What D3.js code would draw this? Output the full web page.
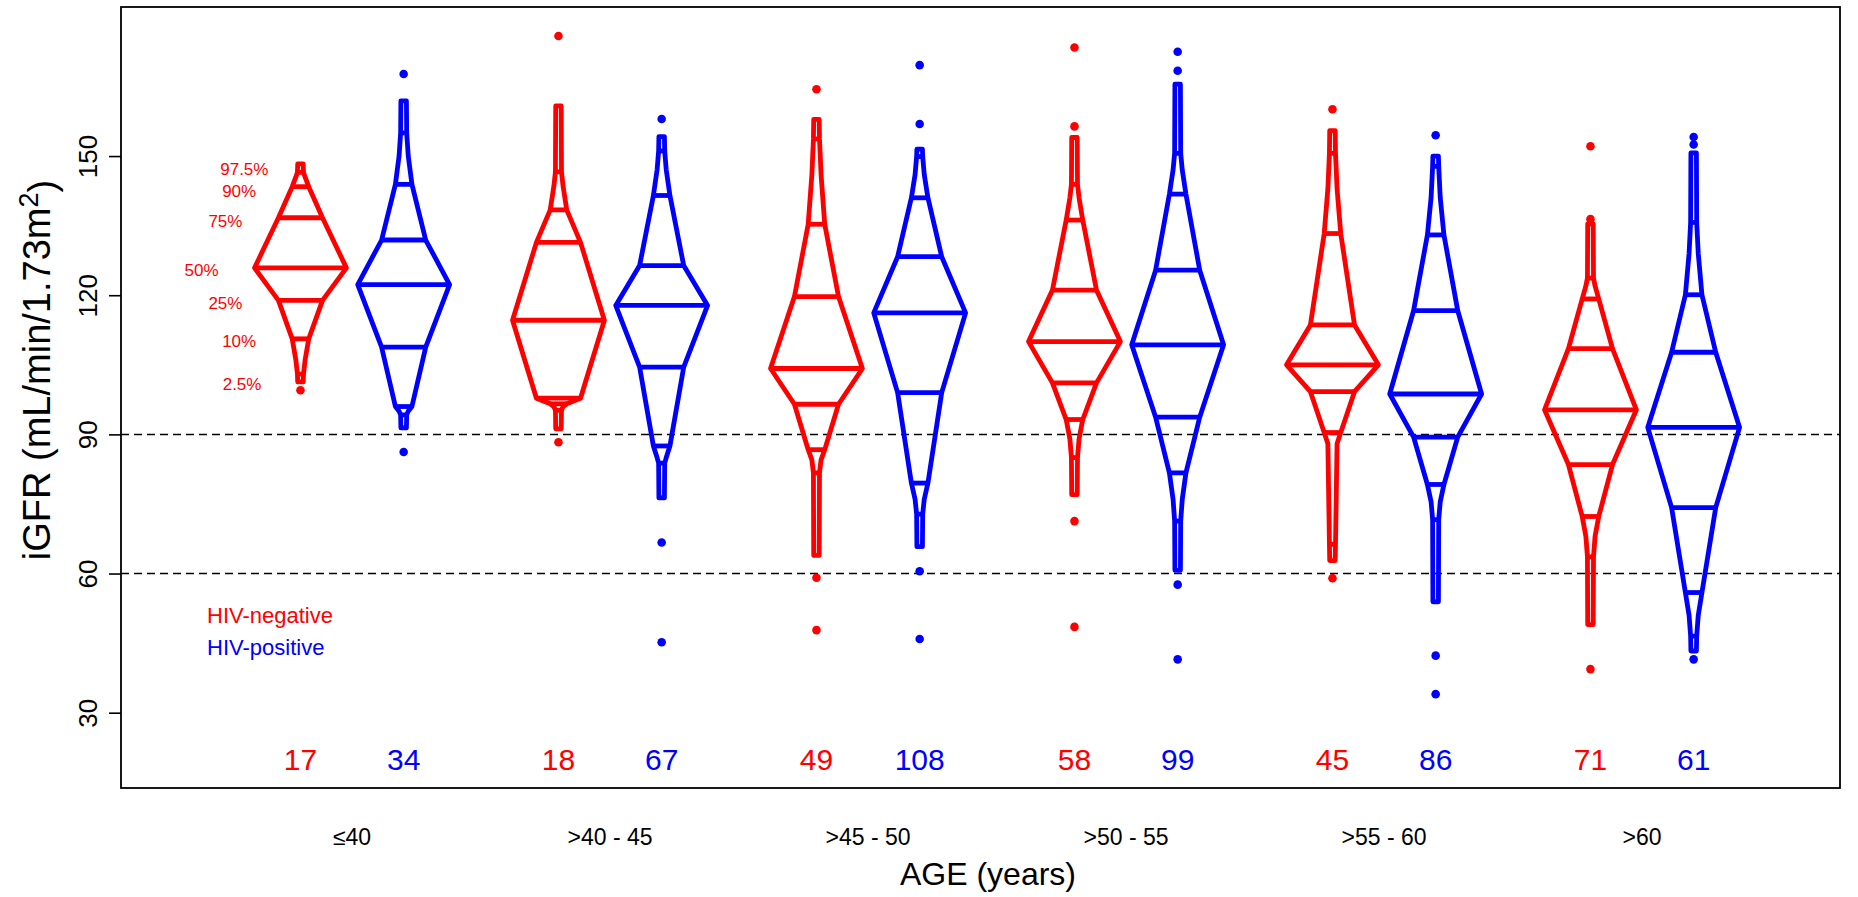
<!DOCTYPE html>
<html><head><meta charset="utf-8">
<script src="https://cdn.jsdelivr.net/npm/d3@7"></script>
<style>
html,body{margin:0;padding:0;background:#fff;}
svg{display:block;font-family:"Liberation Sans",Arial,Helvetica,sans-serif;}
</style>
</head><body>
<svg id="chart" width="1858" height="897"></svg>
<script>
// ---------------- data ----------------
const ageGroups = ["\u226440", ">40 - 45", ">45 - 50", ">50 - 55", ">55 - 60", ">60"];
const seriesNames = ["HIV-negative", "HIV-positive"];
const seriesColors = ["#FF0000", "#0000FF"];
const yTicks = [30, 60, 90, 120, 150];
const refLines = [60, 90];
const nLabelLevel = 20;

// profile columns: min, 2.5%, 5%, 10%, 25%, 50%, 75%, 90%, 95%, 97.5%, max
const profileProbs = [0, 0.025, 0.05, 0.10, 0.25, 0.50, 0.75, 0.90, 0.95, 0.975, 1];
// folded width of the outline at each profile column (as drawn)
const profileFold = [0.03, 0.033, 0.05, 0.09, 0.24, 0.50, 0.24, 0.09, 0.05, 0.033, 0.03];
// which columns get a percentile line
const markedProbs = [0.025, 0.10, 0.25, 0.50, 0.75, 0.90, 0.975];
const percentileLabels = ["2.5%", "10%", "25%", "50%", "75%", "90%", "97.5%"];

// HIV-negative
const negN = [17, 18, 49, 58, 45, 71];
const negProfile = [
  [101.3, 103.0, 106.0, 110.6, 118.9, 125.9, 136.7, 143.4, 145.5, 146.5, 148.3],
  [ 91.2,  95.2,  96.0,  96.6,  97.8, 114.6, 131.4, 138.4, 143.5, 146.6, 160.8],
  [ 63.9,  81.7,  84.5,  86.7,  96.5, 104.2, 119.7, 135.3, 146.0, 153.7, 157.9],
  [ 77.0,  85.0,  89.0,  93.2, 101.1, 110.0, 121.1, 136.2, 141.0, 143.9, 154.0],
  [ 62.8,  66.3,  88.0,  90.4,  99.2, 105.0, 113.6, 133.3, 143.0, 150.6, 155.5],
  [ 49.0,  63.6,  68.0,  72.3,  83.5,  95.3, 108.5, 119.2, 122.0, 123.7, 135.4]
];
const negOutliers = [
  [99.5],
  [175.9, 88.3],
  [164.4, 59.1, 47.8],
  [173.4, 156.4, 71.3, 48.5],
  [160.1, 59.0],
  [152.1, 136.4, 39.4]
];

// HIV-positive
const posN = [34, 67, 108, 99, 86, 61];
const posProfile = [
  [ 91.4,  94.2,  95.0,  96.0, 108.8, 122.3, 131.9, 143.9, 150.0, 155.0, 161.9],
  [ 76.3,  83.8,  85.0,  87.5, 104.5, 117.8, 126.4, 141.5, 147.0, 151.1, 154.2],
  [ 65.8,  72.8,  76.0,  79.5,  99.0, 116.2, 128.3, 141.0, 146.0, 149.9, 151.5],
  [ 60.7,  71.3,  76.0,  81.7,  93.7, 109.3, 125.4, 141.8, 147.0, 150.6, 165.5],
  [ 53.9,  71.6,  75.5,  79.2,  89.4,  98.7, 116.7, 133.0, 141.0, 147.8, 150.0],
  [ 43.3,  46.5,  51.0,  55.9,  74.2,  91.5, 107.7, 120.1, 129.0, 135.7, 150.7]
];
const posOutliers = [
  [167.7, 86.2],
  [158.0, 66.7, 45.2],
  [169.6, 156.9, 60.5, 45.9],
  [172.5, 168.4, 57.6, 41.5],
  [154.5, 42.3, 34.0],
  [154.1, 152.5, 41.5]
];

// ---------------- layout ----------------
const plot = {left: 121, right: 1840, top: 7, bottom: 788};
const strokeW = 4.8;
const widthScale = 0.89;       // half-width (in slot units) per folded proportion

const svg = d3.select("#chart");

const allVals = [].concat(negProfile.flat(), posProfile.flat(), negOutliers.flat(), posOutliers.flat(), [nLabelLevel]);
const [lo, hi] = d3.extent(allVals);
const pad = (hi - lo) * 0.04;
const y = d3.scaleLinear().domain([lo - pad, hi + pad]).range([plot.bottom, plot.top]);
const x = d3.scaleLinear().domain([-0.739, 15.918]).range([plot.left, plot.right]);

const slotPos = (i, s) => 1 + 2.5 * i + s;
const halfW = fold => x(widthScale * fold) - x(0);
const markedCols = markedProbs.map(p => profileProbs.indexOf(p));

// dashed reference lines
svg.append("g").selectAll("line").data(refLines).join("line")
  .attr("x1", plot.left).attr("x2", plot.right)
  .attr("y1", d => y(d)).attr("y2", d => y(d))
  .attr("stroke", "#000").attr("stroke-width", 1.5).attr("stroke-dasharray", "8,5");

// shapes
const series = [
  {n: negN, profile: negProfile, outliers: negOutliers, color: seriesColors[0], s: 0},
  {n: posN, profile: posProfile, outliers: posOutliers, color: seriesColors[1], s: 1}
];

const gShapes = svg.append("g");
series.forEach(ser => {
  ser.profile.forEach((q, i) => {
    const cx = x(slotPos(i, ser.s));
    const right = q.map((v, k) => [cx + halfW(profileFold[k]), y(v)]);
    const left = q.map((v, k) => [cx - halfW(profileFold[k]), y(v)]).reverse();
    const g = gShapes.append("g");
    g.append("path")
      .attr("d", d3.line()(right.concat(left)) + "Z")
      .attr("fill", "none").attr("stroke", ser.color)
      .attr("stroke-width", strokeW).attr("stroke-linejoin", "round");
    // percentile lines
    g.selectAll("line").data(markedCols.map(c => ({v: q[c], f: profileFold[c]}))).join("line")
      .attr("x1", d => cx - halfW(d.f)).attr("x2", d => cx + halfW(d.f))
      .attr("y1", d => y(d.v)).attr("y2", d => y(d.v))
      .attr("stroke", ser.color).attr("stroke-width", strokeW);
    // outliers
    g.selectAll("circle").data(ser.outliers[i]).join("circle")
      .attr("cx", cx).attr("cy", d => y(d)).attr("r", 4.3).attr("fill", ser.color);
    // n labels
    svg.append("text")
      .attr("x", cx).attr("y", y(nLabelLevel)).attr("dy", "0.36em")
      .attr("text-anchor", "middle").attr("font-size", 30).attr("fill", ser.color)
      .text(ser.n[i]);
  });
});

// percentile labels beside the first HIV-negative shape
const labelNudgeY = [10, 2, 3, 2, 3, 4, -3];
const labelNudgeX = [0, 0, 0, 0, 0, 0, 7];
const q0 = negProfile[0];
svg.append("g").selectAll("text").data(percentileLabels).join("text")
  .attr("x", (d, k) => x(slotPos(0, 0)) - halfW(profileFold[markedCols[k]]) - 36 + labelNudgeX[k])
  .attr("y", (d, k) => y(q0[markedCols[k]]) + labelNudgeY[k])
  .attr("dy", "0.35em").attr("text-anchor", "end")
  .attr("font-size", 17).attr("fill", seriesColors[0])
  .text(d => d);

// legend
svg.append("g").selectAll("text").data(seriesNames).join("text")
  .attr("x", 207).attr("y", (d, k) => 623 + 32 * k)
  .attr("font-size", 22).attr("fill", (d, k) => seriesColors[k])
  .text(d => d);

// y axis
const yAxis = svg.append("g").attr("transform", `translate(${plot.left},0)`)
  .call(d3.axisLeft(y).tickValues(yTicks).tickSize(12).tickFormat(d3.format("d")));
yAxis.select(".domain").remove();
yAxis.selectAll(".tick line").attr("stroke", "#000").attr("stroke-width", 1.6);
yAxis.selectAll(".tick text")
  .attr("x", null).attr("dy", null)
  .attr("transform", "translate(-24,0) rotate(-90)")
  .attr("text-anchor", "middle").attr("font-size", 26).attr("fill", "#000")
  .attr("font-family", "Liberation Sans, Arial, sans-serif");

// plot box
svg.append("rect")
  .attr("x", plot.left).attr("y", plot.top)
  .attr("width", plot.right - plot.left).attr("height", plot.bottom - plot.top)
  .attr("fill", "none").attr("stroke", "#000").attr("stroke-width", 1.8);

// category labels
svg.append("g").selectAll("text").data(ageGroups).join("text")
  .attr("x", (d, i) => x(slotPos(i, 0.5))).attr("y", 845)
  .attr("text-anchor", "middle").attr("font-size", 23).attr("fill", "#000")
  .text(d => d);

// axis titles
svg.append("text").attr("x", 988).attr("y", 885)
  .attr("text-anchor", "middle").attr("font-size", 32).attr("fill", "#000")
  .text("AGE (years)");

const yt = svg.append("text")
  .attr("transform", `translate(50,370) rotate(-90)`)
  .attr("text-anchor", "middle").attr("font-size", 38).attr("fill", "#000");
yt.append("tspan").text("iGFR (mL/min/1.73m");
yt.append("tspan").attr("dy", "-0.45em").attr("font-size", 27).text("2");
yt.append("tspan").attr("dy", "0.45em").text(")");
</script>
</body></html>
